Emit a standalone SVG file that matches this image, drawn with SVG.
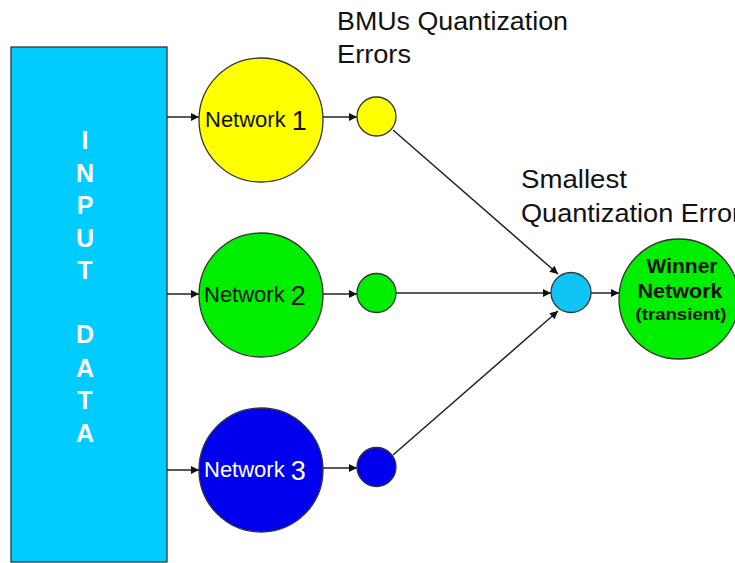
<svg xmlns="http://www.w3.org/2000/svg" width="735" height="563" viewBox="0 0 735 563">
  <style>
    .lbl { font-family: "Liberation Sans", Arial, sans-serif; fill: #111; }
    .node { stroke: #333; stroke-width: 1.3; }
    .edge { stroke: #222; stroke-width: 1.5; fill: none; marker-end: url(#arrow); }
    .inp { font-family: "Liberation Sans", Arial, sans-serif; font-weight: bold; font-size: 25px; fill: #fff; text-anchor: middle; }
    .net { font-family: "Liberation Sans", Arial, sans-serif; font-size: 22px; }
    .num { font-size: 27px; }
  </style>
  <defs>
    <marker id="arrow" viewBox="0 0 10 10" refX="10" refY="5" markerWidth="10" markerHeight="8" markerUnits="userSpaceOnUse" orient="auto">
      <path d="M0,0 L10,5 L0,10 z" fill="#111"/>
    </marker>
  </defs>

  <rect width="735" height="563" fill="#fff"/>

  <!-- input block -->
  <g id="input-data">
    <rect x="11" y="47" width="156" height="515" fill="#00CCFF" stroke="#334" stroke-width="1.3"/>
    <text class="inp" x="85" y="149">I</text>
    <text class="inp" x="85" y="182">N</text>
    <text class="inp" x="85" y="214">P</text>
    <text class="inp" x="85" y="247">U</text>
    <text class="inp" x="85" y="279">T</text>
    <text class="inp" x="85" y="343">D</text>
    <text class="inp" x="85" y="377">A</text>
    <text class="inp" x="85" y="409">T</text>
    <text class="inp" x="85" y="442">A</text>
  </g>

  <!-- connectors -->
  <g id="connectors">
    <line class="edge" x1="167" y1="117" x2="199" y2="117"/>
    <line class="edge" x1="167" y1="294" x2="199" y2="294"/>
    <line class="edge" x1="167" y1="470" x2="199" y2="470"/>
    <line class="edge" x1="323" y1="117" x2="357" y2="117"/>
    <line class="edge" x1="323" y1="294" x2="357" y2="294"/>
    <line class="edge" x1="323" y1="468" x2="357" y2="468"/>
    <line class="edge" x1="393" y1="130" x2="558" y2="274"/>
    <line class="edge" x1="396" y1="293" x2="551" y2="293"/>
    <line class="edge" x1="393" y1="455" x2="558" y2="311"/>
    <line class="edge" x1="591" y1="293" x2="619" y2="293"/>
  </g>

  <!-- networks -->
  <g id="network-1">
    <circle class="node" cx="261" cy="120" r="62" fill="#FFFF00"/>
    <text class="lbl net" x="205" y="127">Network <tspan class="num" dy="3">1</tspan></text>
  </g>
  <g id="network-2">
    <circle class="node" cx="261" cy="295" r="62" fill="#00EE00"/>
    <text class="lbl net" x="204" y="302">Network <tspan class="num" dy="3">2</tspan></text>
  </g>
  <g id="network-3">
    <circle class="node" cx="261" cy="470" r="62" fill="#0000EE"/>
    <text class="lbl net" x="204" y="477" style="fill:#fff">Network <tspan class="num" dy="3">3</tspan></text>
  </g>

  <!-- BMU quantization errors -->
  <g id="bmu-1"><circle class="node" cx="376.5" cy="116.5" r="19.5" fill="#FFFF00"/></g>
  <g id="bmu-2"><circle class="node" cx="376.5" cy="293" r="19.5" fill="#00EE00"/></g>
  <g id="bmu-3"><circle class="node" cx="376.5" cy="467" r="19.5" fill="#0000EE"/></g>

  <!-- smallest error -->
  <g id="smallest">
    <circle class="node" cx="571" cy="292.5" r="20" fill="#11C4F6"/>
  </g>

  <!-- winner -->
  <g id="winner">
    <circle class="node" cx="679" cy="299" r="60" fill="#00EE00"/>
    <text class="lbl" x="682" y="273" font-size="20" font-weight="bold" text-anchor="middle" textLength="71" lengthAdjust="spacingAndGlyphs">Winner</text>
    <text class="lbl" x="680" y="298" font-size="20" font-weight="bold" text-anchor="middle" textLength="85" lengthAdjust="spacingAndGlyphs">Network</text>
    <text class="lbl" x="681" y="320" font-size="16" font-weight="bold" text-anchor="middle" textLength="91" lengthAdjust="spacingAndGlyphs">(transient)</text>
  </g>

  <!-- titles -->
  <g id="titles">
    <text class="lbl" x="337" y="30" font-size="25" textLength="231" lengthAdjust="spacingAndGlyphs">BMUs Quantization</text>
    <text class="lbl" x="337" y="63" font-size="25" textLength="74" lengthAdjust="spacingAndGlyphs">Errors</text>
    <text class="lbl" x="521" y="188" font-size="25" textLength="106" lengthAdjust="spacingAndGlyphs">Smallest</text>
    <text class="lbl" x="521" y="222" font-size="25" textLength="220" lengthAdjust="spacingAndGlyphs">Quantization Error</text>
  </g>
</svg>
